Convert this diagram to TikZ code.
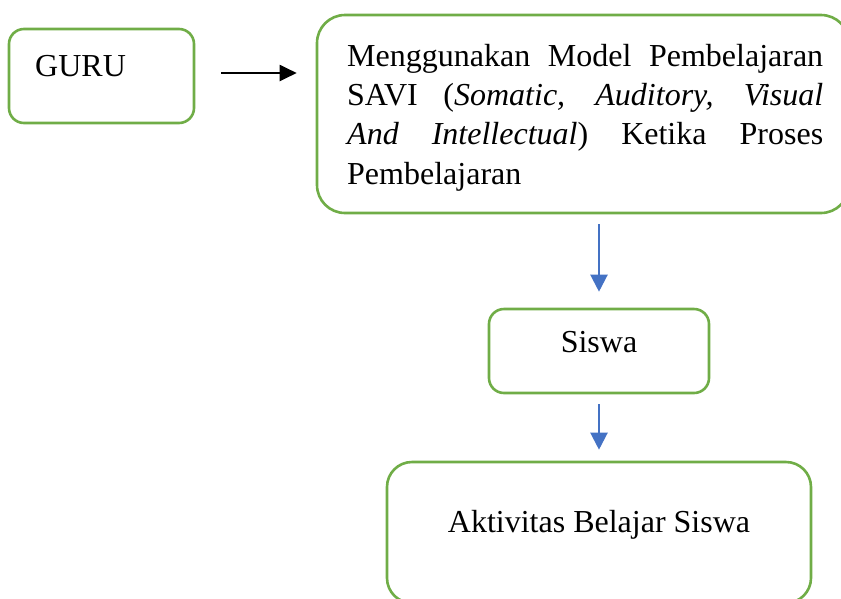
\documentclass[tikz,border=0pt]{standalone}
\usepackage{fontspec}
\setmainfont{Liberation Serif}
\usetikzlibrary{arrows.meta}
\definecolor{sgreen}{HTML}{70AD47}
\definecolor{sblue}{HTML}{4472C4}
\tikzset{
  gbox/.style={draw=sgreen, line width=2.6pt, inner sep=0pt, fill=none},
  lbl/.style={inner sep=0pt, font=\fontsize{32}{39.3}\selectfont},
  karrow/.style={draw=black, line width=2pt, -{Triangle[length=17pt,width=16pt]}},
  barrow/.style={draw=sblue, line width=2.2pt, -{Triangle[length=17pt,width=17pt]}}
}
\begin{document}
\begin{tikzpicture}[x=1pt,y=-1pt]
\useasboundingbox (0,0) rectangle (841,598);
\clip (0,0) rectangle (841,598);
% boxes
\node[gbox, rounded corners=15pt, minimum width=185pt, minimum height=94pt] (guru) at (101.5,76) {};
\node[gbox, rounded corners=28pt, minimum width=532pt, minimum height=198pt] (big) at (583,114) {};
\node[gbox, rounded corners=15pt, minimum width=220pt, minimum height=84pt] (siswa) at (599,351) {};
\node[gbox, rounded corners=25pt, minimum width=424pt, minimum height=141pt] (akt) at (599,532.5) {};
% texts
\node[lbl, anchor=base west] (tguru) at (35,76) {GURU};
\node[lbl, anchor=north west, text width=476pt, align=justify] (tbig) at (347,38.5)
  {\noindent\strut Menggunakan Model Pembelajaran\linebreak
   SAVI (\textit{Somatic, Auditory, Visual}\linebreak
   \textit{And Intellectual}) Ketika Proses\linebreak
   Pembelajaran};
\node[lbl, anchor=base] (tsiswa) at (599,352) {Siswa};
\node[lbl, anchor=base] (takt) at (599,532) {Aktivitas Belajar Siswa};
% connectors
\draw[karrow, shorten <=26pt, shorten >=19pt] ([yshift=3pt]guru.east) -- ([yshift=3pt]guru.east -| big.west);
\draw[barrow, shorten <=10pt, shorten >=16pt] (big.south -| siswa.north) -- (siswa.north);
\draw[barrow, shorten <=10pt, shorten >=11pt] (siswa.south) -- (akt.north);
\end{tikzpicture}
\end{document}
